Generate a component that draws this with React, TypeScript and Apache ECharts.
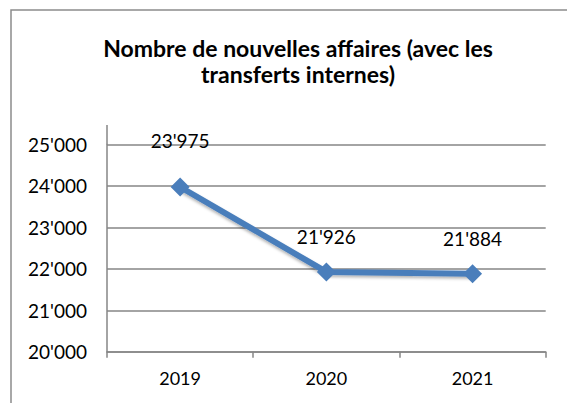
import React, { useEffect, useRef } from "react";
import * as echarts from "echarts";

const categories = ["2019", "2020", "2021"];
const values = [23975, 21926, 21884];
const yTicks = [20000, 21000, 22000, 23000, 24000, 25000];
const titleText = "Nombre de nouvelles affaires (avec les\ntransferts internes)";

const fmt = (v: number) => {
  const s = String(Math.round(v));
  return s.replace(/\B(?=(\d{3})+(?!\d))/g, "'");
};

export default function App() {
  const ref = useRef<HTMLDivElement>(null);
  useEffect(() => {
    if (!ref.current) return;
    const chart = echarts.init(ref.current, null, { renderer: "svg" });
    const font = "Lato, 'Open Sans', sans-serif";
    const gridLeft = 107;
    const gridTop = 144.5;
    chart.setOption({
      animation: false,
      backgroundColor: "#ffffff",
      title: {
        text: titleText,
        left: 293,
        textAlign: "center",
        top: 30,
        textStyle: {
          fontFamily: font,
          fontWeight: "bold",
          fontSize: 23,
          lineHeight: 26,
          color: "#000",
        },
      },
      graphic: [
        {
          type: "rect",
          shape: { x: 11, y: 10, width: 620, height: 450 },
          style: { fill: "none", stroke: "#8c8c8c", lineWidth: 1.5 },
          silent: true,
          z: -1,
        },
        {
          type: "line",
          shape: { x1: gridLeft, y1: 125, x2: gridLeft, y2: gridTop },
          style: { stroke: "#868686", lineWidth: 1.5 },
          silent: true,
        },
      ],
      grid: { left: gridLeft, right: 21.3, top: gridTop, bottom: 51.3, containLabel: false },
      xAxis: {
        type: "category",
        data: categories,
        boundaryGap: true,
        axisLine: { lineStyle: { color: "#868686", width: 1.5 } },
        axisTick: { show: true, length: 6, alignWithLabel: false, lineStyle: { color: "#868686", width: 1.5 } },
        axisLabel: { fontFamily: font, fontSize: 18, color: "#000", margin: 17 },
        splitLine: { show: false },
      },
      yAxis: {
        type: "value",
        min: yTicks[0],
        max: yTicks[yTicks.length - 1],
        interval: 1000,
        axisLine: { show: true, lineStyle: { color: "#868686", width: 1.5 } },
        axisTick: { show: false },
        axisLabel: { fontFamily: font, fontSize: 19, color: "#000", margin: 20, formatter: (v: number) => fmt(v) },
        splitLine: { show: true, lineStyle: { color: "#868686", width: 1.5 } },
      },
      series: [
        {
          type: "line",
          data: values.map((v, i) => ({ value: v, label: { distance: i === 0 ? 27 : 16 } })),
          symbol: "diamond",
          symbolSize: 19,
          color: "#4a7ebb",
          lineStyle: {
            width: 6,
            color: "#4a7ebb",
            shadowColor: "rgba(0,0,0,0.3)",
            shadowBlur: 3,
            shadowOffsetY: 2,
          },
          itemStyle: { color: "#4a7ebb" },
          label: {
            show: true,
            position: "top",
            fontFamily: font,
            fontSize: 19,
            color: "#000",
            formatter: (p: any) => fmt(p.value),
          },
        },
      ],
    });
    return () => chart.dispose();
  }, []);
  return (
    <div
      ref={ref}
      style={{ position: "absolute", left: 0, top: 0, width: 567, height: 403 }}
    />
  );
}
